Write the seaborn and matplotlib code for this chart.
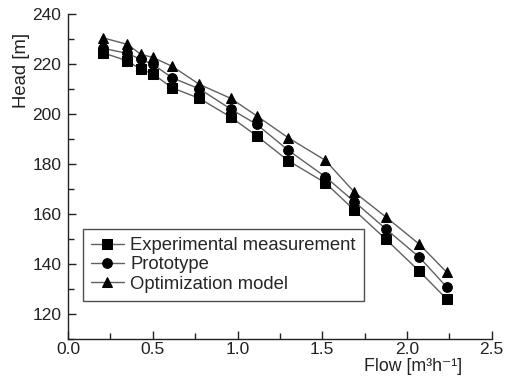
import matplotlib
matplotlib.use("Agg")
import matplotlib.pyplot as plt
import seaborn as sns
import pandas as pd
from matplotlib.ticker import MultipleLocator

flow = [0.208, 0.35, 0.43, 0.50, 0.615, 0.775, 0.96, 1.113, 1.30, 1.518, 1.69, 1.874, 2.073, 2.234]
experimental = [224.5, 221.3, 217.9, 216.1, 210.5, 206.3, 198.8, 191.3, 181.3, 172.5, 161.5, 150.0, 137.1, 126.0]
prototype = [226.3, 224.3, 221.9, 219.9, 214.5, 210.1, 202.0, 195.9, 185.5, 174.9, 164.9, 154.1, 142.7, 130.8]
optimization = [230.5, 227.9, 223.9, 222.7, 219.1, 211.9, 206.3, 199.3, 190.5, 181.5, 168.7, 158.9, 147.9, 136.7]
series_names = ["Experimental measurement", "Prototype", "Optimization model"]
markers = ["s", "o", "^"]

sns.set_theme(style="ticks")
plt.rcParams['font.family'] = ['Liberation Sans', 'DejaVu Sans']

fig = plt.figure(figsize=(5.08, 3.83), dpi=100)
ax = fig.add_axes([0.134, 0.115, 0.834, 0.848])

for name, vals, m in zip(series_names, [experimental, prototype, optimization], markers):
    df = pd.DataFrame({"Flow": flow, "Head": vals})
    sns.lineplot(data=df, x="Flow", y="Head", ax=ax, color="#606060", linewidth=1.0,
                 marker=m, markersize=7, markerfacecolor="black", markeredgecolor="black",
                 label=name)

ax.set_xlim(0, 2.5)
ax.set_ylim(110, 240)
ax.xaxis.set_major_locator(MultipleLocator(0.5))
ax.xaxis.set_minor_locator(MultipleLocator(0.25))
ax.yaxis.set_major_locator(MultipleLocator(20))
ax.yaxis.set_minor_locator(MultipleLocator(10))
ax.tick_params(which="major", direction="in", length=6, width=1, labelsize=12.5,
               colors="#222222")
ax.tick_params(which="minor", direction="in", length=4, width=1, colors="#222222")
ax.tick_params(axis="x", which="major", pad=2.5)
ax.tick_params(axis="y", which="major", pad=5)
ax.xaxis.set_major_formatter(matplotlib.ticker.FormatStrFormatter("%.1f"))
for s in ["left", "bottom"]:
    ax.spines[s].set_linewidth(1.0)
    ax.spines[s].set_color("#222222")
sns.despine(ax=ax)

ax.set_xlabel("Flow [m³h⁻¹]", fontsize=12.8, color="#222222")
ax.set_ylabel("Head [m]", fontsize=13.3, color="#222222")
ax.xaxis.set_label_coords(0.814, -0.06)
ax.yaxis.set_label_coords(-0.09, 0.827)

leg = ax.legend(loc="lower left", bbox_to_anchor=(0.035, 0.117), fontsize=13.3, frameon=True,
                fancybox=False, edgecolor="#222222", handlelength=1.75, handletextpad=0.35,
                borderpad=0.45, labelspacing=0.12, borderaxespad=0)
leg.get_frame().set_linewidth(1.0)

fig.savefig("out.png", dpi=100)
